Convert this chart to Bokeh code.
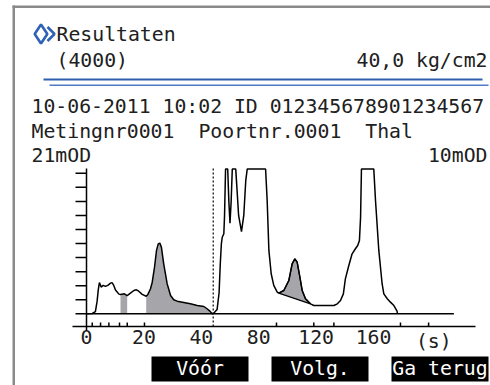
import numpy as np
from bokeh.plotting import figure
from bokeh.models import Range1d, BoxAnnotation
from bokeh.core.properties import value
from bokeh.embed import file_html
from bokeh.resources import INLINE

# ---------------- data ----------------
time_s = [0.0, 2.0, 3.1, 3.7, 4.1, 4.5, 5.1, 5.8, 6.6, 7.4, 8.4, 8.9, 9.5, 10.1,
          11.3, 11.85, 13.2, 14.17, 15.3, 16.5, 17.4, 18.2, 19.4, 20.8, 21.4,
          22.3, 22.9, 23.7, 24.4, 25.0, 25.55, 26.1, 26.9, 28.1, 29.3, 30.4,
          31.6, 33.9, 36.2, 38.6, 41.8, 44.0, 46.0, 47.6, 48.8, 51.0, 52.4,
          53.2, 54.0, 54.6, 55.7, 56.2, 56.9, 58.4, 59.2, 60.0, 60.8, 61.6,
          64.0, 64.8, 66.0, 68.0, 69.6, 71.0, 72.0, 84.8, 85.9, 87.1, 88.7,
          90.5, 92.9, 94.0, 97.5, 101.0, 103.3, 105.2, 106.8, 108.7, 110.3,
          112.6, 116.1, 118.4, 127.8, 132.4, 134.8, 137.0, 139.0, 140.4,
          142.8, 145.1, 147.4, 149.0, 150.2, 151.0, 151.6, 160.2, 161.4,
          163.7, 166.0, 167.2, 169.6, 171.8, 174.2, 176.4, 176.8]
signal = [0.00, 0.02, 0.15, 0.90, 1.70, 2.22, 1.90, 2.02, 1.95, 2.02, 2.18, 2.22,
          2.02, 1.70, 1.40, 1.37, 1.42, 1.30, 1.47, 1.66, 1.71, 1.61, 1.38, 1.25,
          1.38, 1.78, 2.25, 3.32, 4.51, 4.98, 5.03, 4.74, 3.56, 2.14, 1.30, 1.00,
          0.90, 0.81, 0.71, 0.59, 0.52, 0.36, 0.19, 0.00, 0.05, 0.30, 1.50,
          3.50, 5.00, 5.45, 5.70, 7.00, 10.3, 10.3, 8.00, 6.45, 8.00, 10.3,
          10.3, 9.00, 7.00, 5.85, 7.00, 9.50, 10.3, 10.3, 8.06, 4.51, 2.85,
          2.02, 1.54, 1.47, 1.66, 2.37, 3.56, 3.91, 3.68, 2.61, 1.66,
          1.07, 0.71, 0.59, 0.59, 0.59, 0.71, 0.95, 1.42, 2.49,
          3.44, 4.27, 4.63, 4.86, 5.22, 6.88, 10.3, 10.3, 8.06,
          4.51, 2.14, 1.42, 1.07, 0.83, 0.59, 0.19, 0.00]

band1_s = (11.85, 14.17)
band2_s = (20.8, 47.6)
peak_s = (94.0, 116.1)
inject_s = 48.3
event_marks_s = [2.0, 4.9, 7.8, 11.5, 14.2, 20.2, 92.4, 118.4, 132.4, 178.8, 198.4]
baseline_x_s = [0, 216]
baseline_y = [0, 0]
tick_seconds = [0, 20, 40, 80, 120, 160]
tick_labels = ["0", "20", "40", "80", "120", "160"]
unit_label = "(s)"
unit_label_s = 202
y_ticks = list(range(11))

header_title = "Resultaten"
header_sub = "(4000)"
header_pressure = "40,0 kg/cm2"
info_line1 = "10-06-2011 10:02 ID 012345678901234567"
info_line2 = ["Metingnr0001", "Poortnr.0001", "Thal"]
range_left = "21mOD"
range_right = "10mOD"
buttons = ["Vóór", "Volg.", "Ga terug"]


def axis_pos(s):
    s = np.asarray(s, dtype=float)
    return np.where(s <= 40, s, 40 + (s - 40) / 2)


t = np.array(time_s)
sig = np.array(signal)

# ---------------- layout helpers (picture pixels -> data) ----------------
W, H = 490, 385
X0, XS = 86.0, 2.87      # picture x of t=0, px per axis unit
Y0, YS = 313.3, 14.05    # picture y of signal=0, px per division
AX_L, AX_R = 72, 475     # x-axis line extent
AX_Y = 326               # x-axis line height
YA_T, YA_B = 168, 330    # y-axis line extent


def px(xp):
    return (xp - X0) / XS


def py(yp):
    return (Y0 - yp) / YS


def dx(n):
    return n / XS


def dy(n):
    return n / YS


MONO = "DejaVu Sans Mono"
FS = "19.8px"
ASC = 18.4   # font ascent at FS (baseline below top of text box)
TXT = "#202020"
CW = 11.92   # monospace advance at FS

p = figure(width=W, height=H, x_range=Range1d(px(0), px(W)),
           y_range=Range1d(py(H), py(0)), output_backend="svg",
           toolbar_location=None, x_axis_type=None, y_axis_type=None,
           min_border=0)
p.outline_line_color = None
p.background_fill_color = "white"
p.border_fill_color = "white"
p.xgrid.visible = False
p.ygrid.visible = False

# ---------------- axes (drawn through the plot scales) ----------------
x_axis_y = py(AX_Y)
p.segment(x0=[px(AX_L)], y0=[x_axis_y], x1=[px(AX_R)], y1=[x_axis_y],
          line_color="black", line_width=1.5)
ev = axis_pos(event_marks_s)
p.segment(x0=ev, y0=x_axis_y, x1=ev, y1=x_axis_y + dy(4),
          line_color="black", line_width=1.5)
label_pos = np.append(axis_pos(tick_seconds), axis_pos(unit_label_s))
p.text(x=label_pos, y=x_axis_y - dy(3), text=tick_labels + [unit_label],
       text_align="center", text_baseline="top", text_font=value(MONO),
       text_font_size=FS, text_color=TXT)

p.segment(x0=[0], y0=[py(YA_B)], x1=[0], y1=[py(YA_T)],
          line_color="black", line_width=1.5)
p.segment(x0=-dx(11), y0=y_ticks, x1=0, y1=y_ticks,
          line_color="black", line_width=1.5)

# ---------------- fills ----------------
GRAY = "#a6a6aa"
m1 = (t >= band1_s[0]) & (t <= band1_s[1])
p.varea(x=axis_pos(t[m1]), y1=0, y2=sig[m1], fill_color=GRAY)
m2 = (t >= band2_s[0]) & (t <= band2_s[1])
p.varea(x=axis_pos(t[m2]), y1=0, y2=sig[m2], fill_color=GRAY)
m3 = (t >= peak_s[0]) & (t <= peak_s[1])
p.patch(x=axis_pos(t[m3]), y=sig[m3], fill_color=GRAY, line_color="black", line_width=1.2)

# ---------------- baseline, injection marker and trace ----------------
p.line(x=axis_pos(baseline_x_s), y=baseline_y, line_color="black", line_width=1.5)
inj = float(axis_pos(inject_s))
p.segment(x0=[inj], y0=[x_axis_y], x1=[inj], y1=[py(YA_T)],
          line_color="black", line_dash="2 2", line_width=1.2)
p.line(x=axis_pos(t), y=sig, line_color="black", line_width=1.5)

# ---------------- screen frame lines ----------------
p.add_layout(BoxAnnotation(left=px(12), right=px(14.5), top=py(5), bottom=py(395),
                           fill_color="#8a8a8a", fill_alpha=1, line_color=None))
p.add_layout(BoxAnnotation(left=px(12), right=px(495), top=py(5), bottom=py(7.5),
                           fill_color="#8a8a8a", fill_alpha=1, line_color=None))
p.add_layout(BoxAnnotation(left=px(43), right=px(482), top=py(78), bottom=py(80),
                           fill_color="#2f5fae", fill_alpha=1, line_color=None))
p.add_layout(BoxAnnotation(left=px(49), right=px(488), top=py(84), bottom=py(85.5),
                           fill_color="#4f7cc4", fill_alpha=1, line_color=None))

# header icon (blue diamond with chevron)
BLUE = "#2d62b5"
p.scatter(x=[px(40.5)], y=[py(33.5)], marker="diamond", size=19, fill_color=None,
          line_color=BLUE, line_width=2.6)
p.line(x=[px(47), px(54), px(47)], y=[py(26.5), py(33.5), py(40.5)],
       line_color=BLUE, line_width=2.6)


def text(x, baseline, s, align="left", color=TXT):
    # anchor at the top of the text box, placed so the baseline lands on `baseline`
    p.text(x=[px(x)], y=[py(baseline - ASC)], text=[s], text_align=align,
           text_baseline="top", text_color=color,
           text_font=value(MONO), text_font_size=FS)


text(56, 41, header_title)
text(56, 67, header_sub)
text(487, 67, header_pressure, align="right")
text(31, 113, info_line1)
col = 0
for word in info_line2:
    text(31 + col * CW, 138, word)
    col += len(word) + 2
text(31, 162, range_left)
text(487, 162, range_right, align="right")

# soft keys: black keys first, white captions drawn on top
key_spans = [(151, 248), (271, 368), (391, 488)]
p.quad(left=[px(l) for l, r in key_spans], right=[px(r) for l, r in key_spans],
       top=py(356), bottom=py(381), fill_color="black", line_color=None)
for (l, r), s in zip(key_spans, buttons):
    text((l + r) / 2, 375, s, align="center", color="white")

open("out.html", "w").write(file_html(p, INLINE))
